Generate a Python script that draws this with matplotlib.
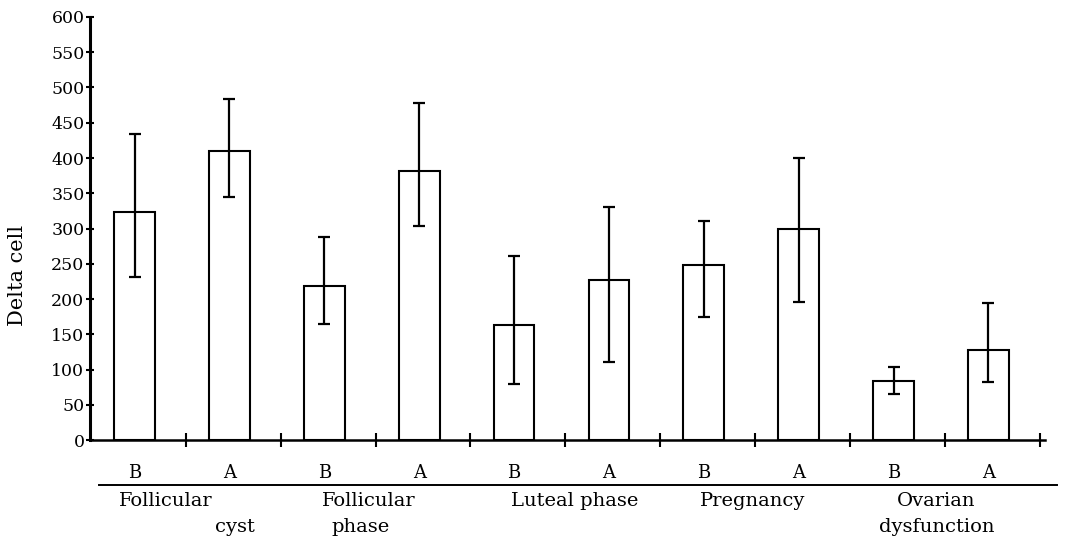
import numpy as np
from matplotlib import pyplot as plt

# bar order: B, A for each group
bar_labels = ["B", "A", "B", "A", "B", "A", "B", "A", "B", "A"]
means = [324, 410, 219, 382, 163, 227, 248, 299, 84, 128]
lows = [231, 344, 164, 303, 79, 111, 175, 196, 65, 83]
highs = [434, 483, 288, 478, 261, 330, 311, 400, 104, 195]
y_ticks = list(range(0, 601, 50))

# group captions: (text, x in bar units, line, alignment)
group_texts = [
    ("Follicular", -0.17, 0, "left"),
    ("cyst", 1.06, 1, "center"),
    ("Follicular", 1.97, 0, "left"),
    ("phase", 2.38, 1, "center"),
    ("Luteal phase", 4.64, 0, "center"),
    ("Pregnancy", 6.52, 0, "center"),
    ("Ovarian", 8.45, 0, "center"),
    ("dysfunction", 8.46, 1, "center"),
]

plt.rcParams["font.family"] = ["DejaVu Serif"]

fig = plt.figure(figsize=(10.65, 5.48), dpi=100)
ax = fig.add_axes([0.0845, 0.197, 0.897, 0.772])

x = np.arange(len(means))
means_arr = np.array(means)
yerr = [means_arr - np.array(lows), np.array(highs) - means_arr]

ax.bar(x, means, width=0.43, color="white", edgecolor="black", linewidth=1.5, zorder=2)
ax.errorbar(x, means, yerr=yerr, fmt="none", ecolor="black", elinewidth=1.6,
            capsize=4, capthick=1.6, zorder=3)

ax.set_xlim(-0.47, 9.6)
ax.set_ylim(0, 600)
ax.set_yticks(y_ticks)
ax.tick_params(axis="y", direction="inout", length=6, width=1.5, labelsize=12.5, pad=1)

ax.set_xticks(x)
ax.set_xticklabels(bar_labels)
ax.tick_params(axis="x", which="major", length=0, labelsize=13, pad=17)
ax.set_xticks(x + 0.5 + 0.04, minor=True)
ax.tick_params(axis="x", which="minor", direction="inout", length=10, width=1.5)

for side in ["top", "right"]:
    ax.spines[side].set_visible(False)
ax.spines["left"].set_linewidth(2.2)
ax.spines["bottom"].set_linewidth(1.8)

ax.set_ylabel("Delta cell", fontsize=15)
ax.yaxis.set_label_coords(-0.066, 0.39)

# line under the B / A row
trans = ax.get_xaxis_transform()
ax.plot([-0.38, 9.72], [-0.106, -0.106], transform=trans, color="black",
        linewidth=1.4, clip_on=False)

for text, xpos, line, ha in group_texts:
    ax.text(xpos, -0.143 - line * 0.063, text, transform=trans, ha=ha, va="center",
            fontsize=14)

fig.savefig("out.png", dpi=100)
